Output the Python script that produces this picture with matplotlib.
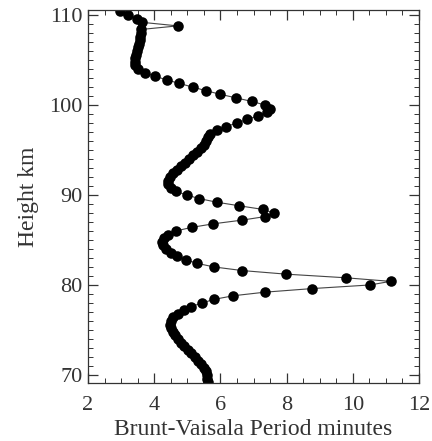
import matplotlib
matplotlib.use("Agg")
import matplotlib.pyplot as plt
from matplotlib.ticker import MultipleLocator

# Height grid (km) and Brunt-Vaisala period (minutes)
height_km = [
    69.2, 69.6, 70.0, 70.4, 70.8, 71.2, 71.6, 72.0, 72.4, 72.8,
    73.2, 73.6, 74.0, 74.4, 74.8, 75.2, 75.6, 76.0, 76.4, 76.8,
    77.2, 77.6, 78.0, 78.4, 78.8, 79.2, 79.6, 80.0, 80.4, 80.8,
    81.2, 81.6, 82.0, 82.4, 82.8, 83.2, 83.6, 84.0, 84.4, 84.8,
    85.2, 85.6, 86.0, 86.4, 86.8, 87.2, 87.6, 88.0, 88.4, 88.8,
    89.2, 89.6, 90.0, 90.4, 90.8, 91.2, 91.6, 92.0, 92.4, 92.8,
    93.2, 93.6, 94.0, 94.4, 94.8, 95.2, 95.6, 96.0, 96.4, 96.8,
    97.2, 97.6, 98.0, 98.4, 98.8, 99.2, 99.6, 100.0, 100.4, 100.8,
    101.2, 101.6, 102.0, 102.4, 102.8, 103.2, 103.6, 104.0, 104.4, 104.8,
    105.2, 105.6, 106.0, 106.4, 106.8, 107.2, 107.6, 108.0, 108.4, 108.8,
    109.2, 109.6, 110.0, 110.4,
]
period_min = [
    5.62, 5.60, 5.58, 5.55, 5.50, 5.42, 5.33, 5.23, 5.12, 5.01,
    4.90, 4.80, 4.71, 4.63, 4.56, 4.50, 4.47, 4.50, 4.58, 4.72,
    4.90, 5.12, 5.45, 5.81, 6.39, 7.35, 8.78, 10.52, 11.14, 9.78,
    7.99, 6.66, 5.81, 5.30, 4.95, 4.70, 4.50, 4.35, 4.27, 4.25,
    4.30, 4.42, 4.65, 5.13, 5.79, 6.64, 7.35, 7.62, 7.28, 6.57,
    5.89, 5.36, 4.98, 4.66, 4.50, 4.42, 4.42, 4.47, 4.56, 4.68,
    4.80, 4.92, 5.04, 5.16, 5.28, 5.40, 5.50, 5.57, 5.62, 5.70,
    5.89, 6.17, 6.49, 6.81, 7.14, 7.40, 7.50, 7.35, 6.95, 6.47,
    5.99, 5.56, 5.16, 4.76, 4.38, 4.02, 3.72, 3.50, 3.42, 3.42,
    3.43, 3.45, 3.48, 3.50, 3.53, 3.56, 3.58, 3.60, 3.60, 4.71,
    3.62, 3.47, 3.22, 2.97,
]

x_ticks = [2, 4, 6, 8, 10, 12]
y_ticks = [70, 80, 90, 100, 110]

plt.rcParams["font.family"] = ["Liberation Serif", "DejaVu Serif"]

fig = plt.figure(figsize=(4.32, 4.41), dpi=100)
ax = fig.add_axes([0.2037, 0.1315, 0.7663, 0.8455])

ax.plot(period_min, height_km, "-", color="#444444", lw=0.8, zorder=1)
ax.plot(period_min, height_km, "o", color="black", ms=7.6, mew=0, zorder=2)

ax.set_xlim(2, 12)
ax.set_ylim(69.1, 110.55)
ax.set_xticks(x_ticks)
ax.set_yticks(y_ticks)
ax.xaxis.set_minor_locator(MultipleLocator(0.5))
ax.yaxis.set_minor_locator(MultipleLocator(1))
ax.tick_params(which="both", direction="in", top=True, right=True,
               color="#333333", labelcolor="#333333", labelsize=16)
ax.tick_params(which="major", length=7, width=0.9)
ax.tick_params(axis="x", which="major", pad=9)
ax.tick_params(axis="y", which="major", pad=4)
ax.tick_params(which="minor", length=3.5, width=0.7)
for s in ax.spines.values():
    s.set_linewidth(0.9)
    s.set_color("#333333")

ax.set_xlabel("Brunt-Vaisala Period minutes", fontsize=17, color="#333333", labelpad=3)
ax.set_ylabel("Height km", fontsize=17, color="#333333", labelpad=7)

fig.savefig("out.png", dpi=100)
